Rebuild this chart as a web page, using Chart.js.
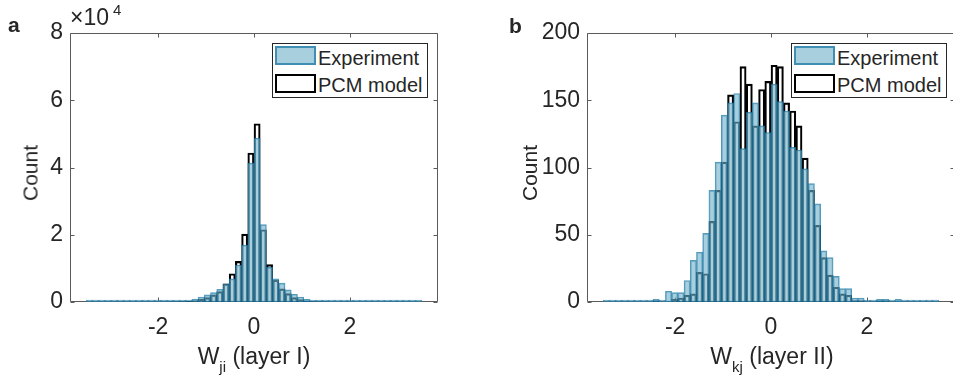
<!DOCTYPE html>
<html>
<head>
<meta charset="utf-8">
<script src="https://cdn.jsdelivr.net/npm/chart.js@4.4.1/dist/chart.umd.min.js"></script>
<style>
  body { margin:0; width:953px; height:385px; overflow:hidden; background:#fff; position:relative;
         font-family:"Liberation Sans", Arial, sans-serif; color:#262626; }
  canvas { position:absolute; top:0; }
  .txt { position:absolute; white-space:nowrap; line-height:1; }
  .bold { font-weight:bold; }
  .rot { transform:translate(-50%,-50%) rotate(-90deg); }
  .xt { transform:translateX(-50%); font-size:23px; }
  .xt sub { font-size:15px; vertical-align:0; position:relative; top:8px; }
  .legend { position:absolute; border:1px solid #262626; background:#fff; width:154px; height:53px; }
  .legend .sw { position:absolute; left:2px; width:37px; height:15px; }
  .legend .lt { position:absolute; left:45px; font-size:20px; line-height:1; white-space:nowrap; }
</style>
</head>
<body>
<canvas id="chartA" width="470" height="385" style="left:0px"></canvas>
<canvas id="chartB" width="470" height="385" style="left:517px"></canvas>

<div class="txt bold" style="left:8px; top:14px; font-size:21px;">a</div>
<div class="txt bold" style="left:509px; top:15px; font-size:21px;">b</div>
<div class="txt" style="left:70px; top:6px; font-size:23px;">×10</div>
<div class="txt" style="left:113px; top:2px; font-size:15px;">4</div>

<div class="txt rot" style="left:30px; top:173px; font-size:21px;">Count</div>
<div class="txt rot" style="left:529px; top:173px; font-size:21px;">Count</div>

<div class="txt xt" style="left:254px; top:345px;">W<sub>ji</sub> (layer I)</div>
<div class="txt xt" style="left:772px; top:345px;">W<sub>kj</sub> (layer II)</div>

<div class="legend" style="left:272px; top:43px;">
  <div class="sw" style="top:2px; background:rgba(110,175,200,0.6); border:2px solid rgba(30,120,165,0.75);"></div>
  <div class="lt" style="top:4px;">Experiment</div>
  <div class="sw" style="top:30px; background:#fff; border:2px solid #000;"></div>
  <div class="lt" style="top:31px;">PCM model</div>
</div>
<div class="legend" style="left:791px; top:43px;">
  <div class="sw" style="top:2px; background:rgba(110,175,200,0.6); border:2px solid rgba(30,120,165,0.75);"></div>
  <div class="lt" style="top:4px;">Experiment</div>
  <div class="sw" style="top:30px; background:#fff; border:2px solid #000;"></div>
  <div class="lt" style="top:31px;">PCM model</div>
</div>

<script>
// histogram bins: 54 bins from -3.5 to 3.5
var binStart = -3.5;
var binWidth = 7 / 54;
var binCenters = [];
for (var i = 0; i < 54; i++) binCenters.push(binStart + (i + 0.5) * binWidth);

// panel a - W_ji (layer I), counts per bin
var expA = [0,0,0,0,0,0,0,0,0,0,0,0,30,
  60,120,250,500,900,1500,2100,2800,3800,5300,6900,11000,16900,41300,
  48700,23000,10300,6900,5600,3600,2300,1500,800,450,250,120,60,30,
  0,0,0,0,0,0,0,0,0,0,0,0,0];
var modA = [0,0,0,0,0,0,0,0,0,0,0,0,10,
  30,60,100,200,450,800,1300,2100,3100,5400,8400,12100,20200,44300,
  53000,21500,11100,6500,3900,2500,1300,700,250,120,60,30,10,0,
  0,0,0,0,0,0,0,0,0,0,0,0,0];

// panel b - W_kj (layer II)
var expB = [0,0,0,0,0,0,
  1,1,2,0,8,7,7,16,31,37,51,83,104,139,148,155,114,141,148,131,126,
  162,149,142,115,113,99,88,73,38,33,19,10,10,3,3,1,1,2,2,0,2,
  0,0,0,0,0,0];
var modB = [0,0,0,0,0,0,
  0,0,1,0,0,2,3,5,6,22,21,60,83,104,154,134,175,162,131,158,164,
  176,175,148,142,131,107,83,57,33,20,11,6,5,1,1,0,0,1,1,0,0,
  0,0,0,0,0,0];

var xTicks = [-2, 0, 2];
var xMin = -3.84, xMax = 3.84;

var expFill = 'rgba(110,175,200,0.6)';
var expEdge = 'rgba(30,120,165,0.75)';
var axisColor = '#262626';
var tickFont = { family: '"Liberation Sans", Arial, sans-serif', size: 23 };

function toPoints(vals) {
  return vals.map(function(v, i){ return { x: binCenters[i], y: v }; });
}

// box around the axes + inward ticks, drawn under the bars like matlab does
var frameTicks = {
  id: 'frameTicks',
  beforeDatasetsDraw: function(chart) {
    var ctx = chart.ctx, a = chart.chartArea;
    var xs = chart.scales.x, ys = chart.scales.y;
    var l = Math.round(a.left) + 0.5, r = Math.round(a.right) - 0.5;
    var t = Math.round(a.top) + 0.5, b = Math.round(a.bottom) - 0.5;
    ctx.save();
    ctx.strokeStyle = '#5a5a5a';
    ctx.lineWidth = 1;
    ctx.beginPath();
    ctx.rect(l, t, r - l, b - t);
    xs.ticks.forEach(function(tk){
      var x = Math.round(xs.getPixelForValue(tk.value)) + 0.5;
      ctx.moveTo(x, b); ctx.lineTo(x, b - 4);
      ctx.moveTo(x, t); ctx.lineTo(x, t + 4);
    });
    ys.ticks.forEach(function(tk){
      var y = Math.round(ys.getPixelForValue(tk.value)) + 0.5;
      ctx.moveTo(l, y); ctx.lineTo(l + 4, y);
      ctx.moveTo(r, y); ctx.lineTo(r - 4, y);
    });
    ctx.stroke();
    ctx.restore();
  }
};

function makeChart(id, exp, mod, yMax, yStep, yLabel) {
  var ctx = document.getElementById(id).getContext('2d');
  return new Chart(ctx, {
    type: 'bar',
    data: {
      datasets: [{
        label: 'Experiment',
        data: toPoints(exp),
        backgroundColor: expFill,
        borderColor: expEdge,
        borderWidth: 1,
        borderSkipped: false,
        minBarLength: 2,
        grouped: false,
        barPercentage: 1,
        categoryPercentage: 1
      }, {
        label: 'PCM model',
        data: toPoints(mod),
        backgroundColor: 'rgba(0,0,0,0)',
        borderColor: '#000',
        borderWidth: 1.5,
        borderSkipped: 'start',
        grouped: false,
        barPercentage: 1,
        categoryPercentage: 1
      }]
    },
    options: {
      responsive: false,
      animation: false,
      devicePixelRatio: 1,
      layout: { padding: { left: 0, right: 32, top: 33, bottom: 0 } },
      plugins: { legend: { display: false }, tooltip: { enabled: false } },
      scales: {
        x: {
          type: 'linear',
          offset: false,
          min: xMin, max: xMax,
          grid: { display: false, drawTicks: false, offset: false },
          border: { display: false },
          ticks: {
            stepSize: 2, includeBounds: false, autoSkip: false, maxRotation: 0,
            padding: 12, color: axisColor, font: tickFont,
            callback: function(v){ return xTicks.indexOf(v) >= 0 ? String(v) : ''; }
          },
          afterFit: function(s){ s.height = 83; }
        },
        y: {
          min: 0, max: yMax,
          grid: { display: false, drawTicks: false },
          border: { display: false },
          ticks: { stepSize: yStep, padding: 7, color: axisColor, font: tickFont, callback: yLabel },
          afterFit: function(s){ s.width = 70; }
        }
      }
    },
    plugins: [frameTicks]
  });
}

makeChart('chartA', expA, modA, 80000, 20000, function(v){ return String(v / 10000); });
makeChart('chartB', expB, modB, 200, 50, function(v){ return String(v); });
</script>
</body>
</html>
